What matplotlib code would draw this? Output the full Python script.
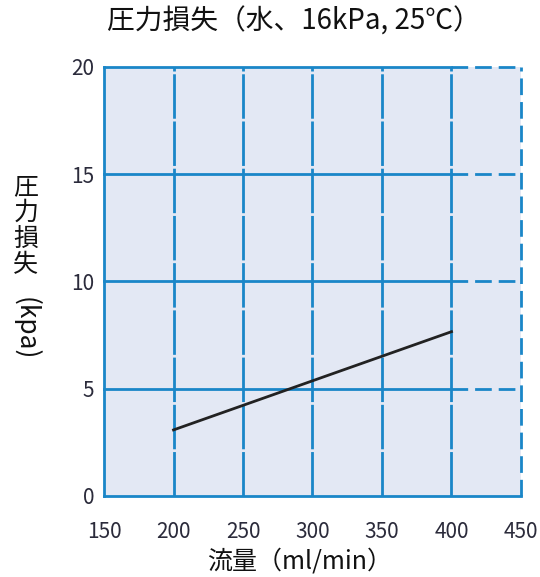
import matplotlib
matplotlib.use("Agg")
import matplotlib.pyplot as plt

plt.rcParams['font.family'] = ['Noto Sans CJK JP', 'DejaVu Sans']

# data
flow = [200, 400]            # ml/min
pressure_loss = [3.08, 7.66]  # kPa

x_ticks = [150, 200, 250, 300, 350, 400, 450]
y_ticks = [0, 5, 10, 15, 20]
x_solid_end = 400   # grid is dashed past this flow

title = "圧力損失（水、16kPa, 25℃）"
x_label = "流量（ml/min）"
y_label_jp = "圧\n力\n損\n失"
y_label_unit = "(kpa)"

grid_color = "#1a86c8"
bg_color = "#e3e8f4"
text_color = "#2b2b3b"

fig = plt.figure(figsize=(5.4, 5.77), dpi=100)
ax = fig.add_axes([0.1926, 0.1404, 0.7722, 0.7435])
ax.set_facecolor(bg_color)
ax.set_xlim(x_ticks[0], x_ticks[-1])
ax.set_ylim(y_ticks[0], y_ticks[-1])
for s in ax.spines.values():
    s.set_visible(False)

lw = 2.0
inner_dash = (0, (16, 1.0))
outer_dash = (0, (6, 2.5))

# vertical grid lines
for x in x_ticks[1:-1]:
    ax.plot([x, x], [y_ticks[0], y_ticks[-1]], color=grid_color, lw=lw,
            ls=inner_dash, clip_on=False, zorder=2)
# left border solid, right border dashed
ax.plot([x_ticks[0]] * 2, [y_ticks[0], y_ticks[-1]], color=grid_color, lw=lw,
        clip_on=False, zorder=2, solid_capstyle='projecting')
ax.plot([x_ticks[-1]] * 2, [y_ticks[0], y_ticks[-1]], color=grid_color, lw=lw,
        ls=outer_dash, clip_on=False, zorder=2)

# horizontal grid lines
ax.plot([x_ticks[0], x_ticks[-1]], [y_ticks[0]] * 2, color=grid_color, lw=lw,
        clip_on=False, zorder=2, solid_capstyle='projecting')
for y in y_ticks[1:]:
    ax.plot([x_ticks[0], x_solid_end], [y, y], color=grid_color, lw=lw,
            clip_on=False, zorder=2, solid_capstyle='projecting')
    ax.plot([x_solid_end, x_ticks[-1]], [y, y], color=grid_color, lw=lw,
            ls=outer_dash, clip_on=False, zorder=2)

# pressure loss curve
ax.plot(flow, pressure_loss, color="#222222", lw=2.0, zorder=3)

ax.set_xticks(x_ticks)
ax.set_yticks(y_ticks)
ax.tick_params(length=0, labelsize=15, labelcolor=text_color)
ax.tick_params(axis='x', pad=18)
ax.tick_params(axis='y', pad=7)

fig.text(0.545, 0.962, title, ha='center', va='center', fontsize=20,
         color="#111111")
fig.text(0.555, 0.026, x_label, ha='center', va='center', fontsize=18,
         color="#111111")
fig.text(0.048, 0.608, y_label_jp, ha='center', va='center', fontsize=18,
         color="#111111", linespacing=1.0)
fig.text(0.048, 0.43, y_label_unit, ha='center', va='center', fontsize=19,
         color="#111111", rotation=-90)

fig.savefig("out.png", dpi=100)
